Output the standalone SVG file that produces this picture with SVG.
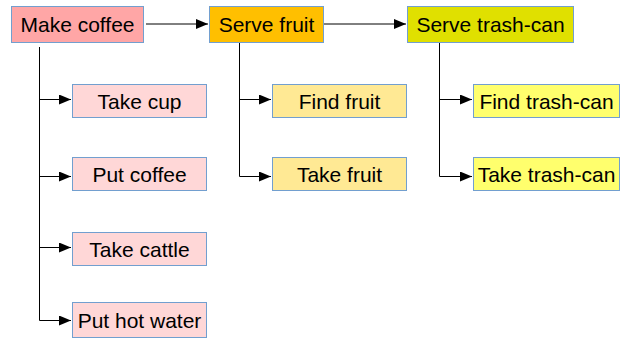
<svg xmlns="http://www.w3.org/2000/svg" width="626" height="341" viewBox="0 0 626 341">
<style>
.n rect{stroke:#729fcf;stroke-width:1}
.n text{font-family:"Liberation Sans",Arial,sans-serif;font-size:21px;fill:#000;text-anchor:middle;dominant-baseline:central}
.c path{fill:none;stroke:#000;stroke-width:1}
</style>
<defs>
<marker id="ah" markerWidth="12" markerHeight="10" refX="12" refY="5" orient="auto" markerUnits="userSpaceOnUse">
<path d="M0,0 L12,5 L0,10 Z" fill="#000"/>
</marker>
</defs>
<rect width="626" height="341" fill="#fff"/>
<g class="c">
<path d="M146,24 H208" marker-end="url(#ah)"/>
<path d="M324,24 H406" marker-end="url(#ah)"/>
<path d="M39.5,47 V320.5 H71" marker-end="url(#ah)"/>
<path d="M39.5,99.5 H71" marker-end="url(#ah)"/>
<path d="M39.5,176.5 H71" marker-end="url(#ah)"/>
<path d="M39.5,247.5 H71" marker-end="url(#ah)"/>
<path d="M239.5,43 V176.5 H271" marker-end="url(#ah)"/>
<path d="M239.5,99.5 H271" marker-end="url(#ah)"/>
<path d="M439.5,43 V176.5 H472" marker-end="url(#ah)"/>
<path d="M439.5,99.5 H472" marker-end="url(#ah)"/>
</g>
<g id="make-coffee" class="n"><rect x="11.5" y="6.5" width="132" height="36" fill="#ffa6a6"/><text x="77.5" y="24.5">Make coffee</text></g>
<g id="serve-fruit" class="n"><rect x="209.5" y="6.5" width="114" height="36" fill="#ffbf00"/><text x="266.5" y="24.5">Serve fruit</text></g>
<g id="serve-trash" class="n"><rect x="407.5" y="6.5" width="166" height="36" fill="#e0e000"/><text x="490.5" y="24.5">Serve trash-can</text></g>
<g id="take-cup" class="n"><rect x="72.5" y="84.5" width="134" height="33" fill="#ffd7d7"/><text x="139.5" y="101">Take cup</text></g>
<g id="put-coffee" class="n"><rect x="72.5" y="157.5" width="134" height="33" fill="#ffd7d7"/><text x="139.5" y="174">Put coffee</text></g>
<g id="take-cattle" class="n"><rect x="72.5" y="232.5" width="134" height="33" fill="#ffd7d7"/><text x="139.5" y="249">Take cattle</text></g>
<g id="put-hot-water" class="n"><rect x="72.5" y="302.5" width="134" height="35" fill="#ffd7d7"/><text x="139.5" y="320">Put hot water</text></g>
<g id="find-fruit" class="n"><rect x="272.5" y="84.5" width="134" height="33" fill="#ffe994"/><text x="339.5" y="101">Find fruit</text></g>
<g id="take-fruit" class="n"><rect x="272.5" y="157.5" width="134" height="33" fill="#ffe994"/><text x="339.5" y="174">Take fruit</text></g>
<g id="find-trash" class="n"><rect x="473.5" y="84.5" width="146" height="33" fill="#ffff6d"/><text x="546.5" y="101">Find trash-can</text></g>
<g id="take-trash" class="n"><rect x="473.5" y="157.5" width="146" height="33" fill="#ffff6d"/><text x="546.5" y="174">Take trash-can</text></g>
</svg>
